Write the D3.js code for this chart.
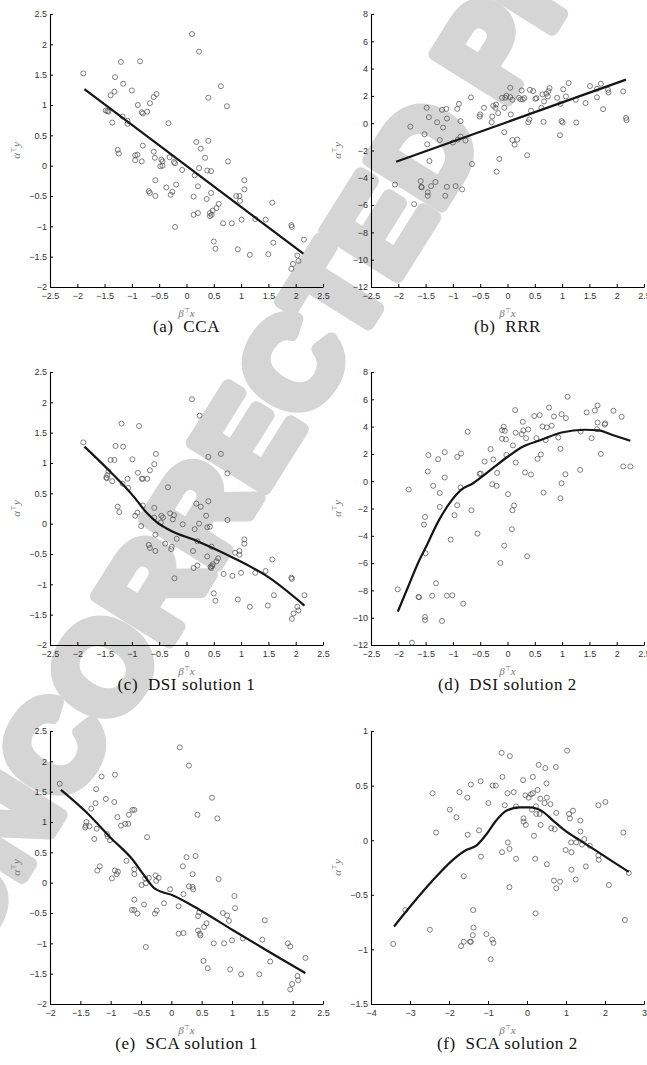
<!DOCTYPE html>
<html>
<head>
<meta charset="utf-8">
<script src="https://cdn.jsdelivr.net/npm/d3@7"></script>
<style>
  body { margin: 0; background: #fff; }
  svg { display: block; }
</style>
</head>
<body>
<div id="chart"></div>
<script>
// Data, [beta'x, alpha'y]
const ccaPoints = [[-1.89,1.52],[0.10,2.17],[0.23,1.88],[-1.20,1.71],[-0.85,1.72],[-1.31,1.46],[-1.16,1.35],[-1.32,1.22],[-1.39,1.16],[-1.00,1.24],[-0.55,1.18],[-0.60,1.13],[-0.67,1.03],[-0.89,1.00],[-0.82,0.88],[-0.80,0.86],[-0.72,0.89],[-1.48,0.91],[-1.43,0.89],[-1.45,0.90],[-1.17,0.81],[-1.08,0.74],[-1.08,0.69],[-1.36,0.71],[-0.33,0.70],[0.63,1.31],[0.40,1.12],[0.74,0.98],[0.18,0.39],[0.40,0.41],[0.26,0.28],[-0.80,0.33],[-1.26,0.26],[-1.24,0.20],[-0.94,0.17],[-0.90,0.18],[-0.94,0.09],[-0.82,0.07],[-0.60,0.23],[-0.58,0.13],[-0.46,0.10],[-0.44,0.07],[-0.48,-0.01],[-0.44,0.00],[-0.31,0.14],[-0.23,0.06],[-0.21,0.04],[-0.08,-0.07],[0.34,0.13],[0.76,0.07],[0.23,-0.04],[0.38,-0.08],[0.45,-0.09],[0.15,-0.16],[-0.57,-0.24],[-0.19,-0.31],[-0.37,-0.36],[-0.26,-0.43],[-0.29,-0.48],[-0.69,-0.42],[-0.67,-0.45],[-0.57,-0.50],[0.21,-0.34],[0.13,-0.51],[0.45,-0.45],[0.37,-0.55],[1.06,-0.24],[1.06,-0.39],[0.91,-0.50],[0.97,-0.50],[0.98,-0.58],[0.59,-0.63],[0.55,-0.70],[0.48,-0.74],[0.43,-0.78],[0.43,-0.83],[0.46,-0.81],[0.21,-0.78],[0.13,-0.81],[0.67,-0.95],[0.83,-0.95],[1.01,-0.89],[1.26,-0.88],[1.45,-0.89],[1.57,-0.61],[-0.21,-1.01],[1.92,-0.98],[1.93,-1.01],[2.15,-1.22],[1.59,-1.27],[0.50,-1.25],[0.53,-1.37],[0.94,-1.38],[1.16,-1.47],[1.50,-1.46],[2.03,-1.48],[2.05,-1.57],[1.95,-1.62],[1.92,-1.70]];
const ccaCurve = [[-1.87,1.26],[2.14,-1.45]];

const rrrPoints = [[-2.06,-4.49],[-1.78,-0.25],[-1.71,-5.93],[-1.59,-4.24],[-1.58,-4.66],[-1.57,-4.70],[-1.48,1.13],[-1.52,-0.81],[-1.47,-1.54],[-1.44,0.44],[-1.43,-2.77],[-1.46,-5.07],[-1.46,-5.32],[-1.40,-4.61],[-1.32,-4.31],[-1.29,0.07],[-1.24,-1.23],[-1.20,0.98],[-1.18,-0.32],[-1.12,1.05],[-1.11,0.34],[-1.14,-5.32],[-1.11,-4.66],[-1.00,-1.42],[-0.95,-4.61],[-0.92,1.05],[-0.89,1.42],[-0.91,-1.20],[-0.86,0.15],[-0.86,-0.98],[-0.83,-4.85],[-0.77,-1.27],[-0.67,1.89],[-0.65,-2.99],[-0.51,0.49],[-0.50,0.64],[-0.43,1.13],[-0.29,0.07],[-0.28,0.49],[-0.26,1.27],[-0.21,1.37],[-0.22,1.13],[-0.20,-3.55],[-0.17,0.74],[-0.15,-2.62],[-0.10,1.86],[-0.06,1.13],[-0.06,-0.66],[-0.04,1.86],[-0.02,2.01],[0.05,2.60],[0.05,1.91],[0.06,0.64],[0.09,1.72],[0.09,-1.23],[0.13,-1.57],[0.18,-1.20],[0.21,1.86],[0.24,1.74],[0.26,2.40],[0.28,1.74],[0.31,1.84],[0.36,-2.35],[0.38,0.07],[0.40,0.27],[0.41,2.45],[0.43,0.91],[0.47,2.35],[0.51,1.79],[0.53,1.84],[0.62,1.13],[0.66,0.10],[0.67,1.59],[0.64,2.11],[0.71,2.16],[0.75,2.35],[0.77,2.57],[0.74,1.96],[0.91,1.86],[0.96,-0.88],[0.97,1.42],[0.99,0.15],[1.01,0.05],[1.02,2.48],[1.07,1.96],[1.12,2.94],[1.25,1.72],[1.26,0.05],[1.43,1.47],[1.51,2.72],[1.64,2.52],[1.64,1.89],[1.71,2.89],[1.75,1.03],[1.84,2.45],[1.85,2.25],[2.12,2.33],[2.17,0.39],[2.18,0.22]];
const rrrCurve = [[-2.04,-2.82],[2.17,3.19]];

const dsi1Points = [[-1.89,1.34],[0.10,2.05],[0.24,1.78],[-1.19,1.65],[-0.87,1.61],[-1.30,1.28],[-1.16,1.27],[-0.56,1.15],[-1.39,1.05],[-1.32,1.05],[-0.99,1.06],[-0.59,0.98],[-0.67,0.88],[-0.89,0.84],[-1.43,0.86],[-1.45,0.80],[-1.47,0.76],[-1.46,0.75],[-1.36,0.70],[-1.08,0.74],[-1.17,0.66],[-1.07,0.59],[-0.82,0.74],[-0.80,0.74],[-0.72,0.74],[-0.34,0.60],[0.40,1.10],[0.63,1.15],[0.75,0.83],[0.18,0.33],[0.40,0.37],[0.26,0.28],[-0.80,0.30],[-1.26,0.28],[-1.23,0.19],[-0.94,0.13],[-0.90,0.18],[-0.83,-0.04],[-0.59,0.26],[-0.59,0.10],[-0.46,0.13],[-0.43,0.10],[-0.47,0.02],[-0.30,0.17],[-0.23,0.14],[-0.25,0.07],[-0.07,-0.01],[0.36,0.13],[0.75,0.06],[0.23,0.00],[0.38,-0.06],[0.43,-0.05],[0.15,-0.09],[-0.57,-0.18],[-0.18,-0.25],[-0.39,-0.33],[-0.28,-0.42],[-0.27,-0.38],[-0.69,-0.35],[-0.67,-0.40],[-0.57,-0.45],[0.20,-0.29],[0.12,-0.45],[0.46,-0.38],[0.38,-0.54],[1.06,-0.26],[1.06,-0.33],[0.89,-0.48],[0.97,-0.45],[0.97,-0.51],[0.58,-0.57],[0.55,-0.62],[0.48,-0.67],[0.44,-0.71],[0.45,-0.73],[0.47,-0.70],[0.20,-0.69],[0.13,-0.73],[0.68,-0.83],[0.84,-0.86],[1.00,-0.81],[1.26,-0.81],[1.45,-0.78],[1.57,-0.59],[-0.22,-0.90],[1.92,-0.89],[1.93,-0.91],[2.16,-1.18],[1.60,-1.18],[0.50,-1.15],[0.53,-1.27],[0.94,-1.25],[1.16,-1.37],[1.49,-1.35],[2.03,-1.37],[2.05,-1.43],[1.96,-1.48],[1.93,-1.57]];
const dsi1Curve = [[-1.87,1.27],[-1.40,0.86],[-0.97,0.45],[-0.72,0.17],[-0.54,0.02],[-0.32,-0.10],[0.20,-0.29],[0.87,-0.57],[1.48,-0.87],[2.16,-1.35]];

const dsi2Points = [[-2.01,-7.92],[-1.81,-0.61],[-1.75,-11.83],[-1.63,-8.48],[-1.62,-8.50],[-1.53,-3.18],[-1.51,-2.62],[-1.51,-9.95],[-1.51,-10.17],[-1.50,-5.28],[-1.46,0.71],[-1.45,1.91],[-1.36,-0.34],[-1.38,-8.39],[-1.31,-7.48],[-1.27,1.61],[-1.24,-0.86],[-1.24,-1.88],[-1.20,-10.24],[-1.15,2.13],[-1.15,0.27],[-1.11,-8.39],[-1.01,-8.36],[-1.04,-4.28],[-0.97,-2.49],[-0.92,1.78],[-0.92,-1.76],[-0.85,2.03],[-0.86,-0.46],[-0.81,-8.97],[-0.73,3.62],[-0.66,-2.13],[-0.55,-3.84],[-0.51,0.54],[-0.49,0.56],[-0.42,1.44],[-0.31,2.35],[-0.28,-0.22],[-0.26,1.59],[-0.20,-0.34],[-0.19,0.61],[-0.13,-5.99],[-0.10,3.11],[-0.10,3.74],[-0.07,3.99],[-0.05,3.69],[-0.03,3.06],[-0.06,-4.72],[-0.02,1.93],[0.01,-0.95],[0.10,2.62],[0.09,-2.13],[0.12,-1.78],[0.08,-3.52],[0.14,5.21],[0.15,3.55],[0.15,1.37],[0.26,3.45],[0.28,4.35],[0.29,3.72],[0.32,0.64],[0.34,3.15],[0.36,-5.50],[0.38,3.79],[0.43,0.49],[0.49,4.77],[0.53,3.15],[0.55,1.64],[0.59,4.84],[0.61,1.96],[0.64,4.01],[0.66,-0.83],[0.72,3.94],[0.76,5.40],[0.70,3.01],[0.81,4.06],[0.85,4.74],[0.93,3.20],[0.97,2.37],[0.97,-1.25],[0.99,-0.15],[0.99,4.91],[1.07,4.62],[1.06,0.51],[1.10,6.19],[1.33,0.83],[1.34,3.64],[1.45,5.04],[1.54,3.15],[1.60,5.18],[1.65,5.55],[1.65,4.30],[1.64,3.81],[1.71,2.00],[1.79,4.23],[1.78,4.15],[1.94,5.16],[2.09,4.72],[2.12,1.08],[2.25,1.08]];
const dsi2Curve = [[-2.01,-9.56],[-1.82,-7.73],[-1.64,-6.01],[-1.49,-4.79],[-1.27,-2.96],[-1.06,-1.61],[-0.85,-0.64],[-0.63,-0.15],[-0.48,0.29],[-0.23,1.08],[0.01,1.81],[0.26,2.49],[0.62,3.03],[0.99,3.57],[1.42,3.77],[1.67,3.72],[1.91,3.40],[2.25,2.96]];

const sca1Points = [[-1.84,1.63],[0.14,2.23],[0.29,1.93],[-1.15,1.75],[-0.93,1.78],[-1.24,1.54],[-1.25,1.31],[-1.08,1.38],[-0.94,1.33],[-1.32,1.22],[-0.64,1.20],[-0.61,1.20],[-0.70,1.12],[-0.89,1.08],[-0.76,0.97],[-0.71,0.97],[-0.83,0.94],[-1.40,1.00],[-1.41,0.94],[-1.35,0.93],[-1.42,0.91],[-1.23,0.89],[-1.06,0.80],[-1.05,0.76],[-1.01,0.70],[-1.27,0.72],[-0.40,0.75],[0.67,1.40],[0.43,1.12],[0.76,1.06],[0.25,0.42],[0.40,0.44],[0.19,0.27],[-0.74,0.36],[-1.18,0.27],[-1.22,0.20],[-0.93,0.20],[-0.88,0.18],[-0.90,0.14],[-0.98,0.07],[-0.61,0.22],[-0.61,0.14],[-0.43,0.07],[-0.37,0.08],[-0.42,-0.01],[-0.49,-0.04],[-0.26,0.12],[-0.21,0.08],[-0.25,0.03],[-0.02,-0.11],[0.35,0.14],[0.78,0.06],[0.29,-0.06],[0.35,-0.07],[0.36,-0.11],[0.20,-0.19],[-0.61,-0.28],[-0.12,-0.34],[-0.45,-0.36],[-0.65,-0.45],[-0.61,-0.45],[-0.56,-0.51],[-0.24,-0.46],[-0.27,-0.51],[0.12,-0.39],[0.46,-0.49],[0.44,-0.55],[1.04,-0.22],[1.05,-0.42],[0.85,-0.50],[0.92,-0.54],[0.95,-0.63],[0.58,-0.67],[0.54,-0.73],[0.44,-0.79],[0.47,-0.84],[0.48,-0.87],[0.20,-0.83],[0.12,-0.84],[0.70,-1.00],[0.87,-1.00],[1.00,-0.95],[1.18,-0.92],[1.50,-0.94],[1.54,-0.62],[-0.42,-1.06],[1.92,-1.00],[1.96,-1.05],[2.21,-1.24],[1.63,-1.30],[0.53,-1.29],[0.60,-1.41],[0.97,-1.43],[1.15,-1.51],[1.45,-1.51],[2.08,-1.54],[2.09,-1.61],[1.99,-1.67],[1.96,-1.76]];
const sca1Curve = [[-1.82,1.53],[-1.40,1.16],[-1.01,0.75],[-0.63,0.37],[-0.47,0.15],[-0.27,-0.10],[0.03,-0.21],[0.47,-0.45],[1.01,-0.78],[1.56,-1.11],[2.21,-1.49]];

const sca2Points = [[-3.43,-0.95],[-3.12,-0.64],[-2.49,-0.82],[-2.42,0.43],[-2.33,0.07],[-1.98,0.28],[-1.81,0.21],[-1.73,0.44],[-1.69,-0.97],[-1.62,-0.93],[-1.62,-0.33],[-1.53,0.39],[-1.52,0.05],[-1.46,-0.93],[-1.44,-0.93],[-1.44,0.51],[-1.38,-0.64],[-1.37,-0.80],[-1.39,-0.87],[-1.23,0.09],[-1.19,0.54],[-1.18,-0.15],[-1.04,-0.86],[-0.99,0.34],[-0.93,-1.09],[-0.89,-0.91],[-0.86,-0.94],[-0.88,0.50],[-0.80,0.50],[-0.65,0.80],[-0.63,0.58],[-0.64,-0.11],[-0.57,0.32],[-0.50,0.43],[-0.49,-0.02],[-0.45,-0.08],[-0.44,0.77],[-0.45,-0.43],[-0.34,0.44],[-0.28,-0.17],[-0.28,0.31],[-0.10,0.55],[-0.09,0.20],[-0.09,0.17],[-0.04,0.41],[-0.03,0.14],[0.04,0.39],[0.10,0.42],[0.15,0.58],[0.15,0.43],[0.13,0.28],[0.18,0.04],[0.21,-0.17],[0.22,-0.67],[0.23,0.31],[0.24,0.24],[0.27,0.46],[0.30,0.69],[0.32,0.24],[0.34,0.38],[0.35,0.14],[0.45,0.34],[0.47,0.66],[0.50,0.52],[0.51,0.39],[0.51,-0.22],[0.60,0.33],[0.62,0.11],[0.69,-0.37],[0.71,0.10],[0.74,0.67],[0.75,0.25],[0.75,-0.44],[0.85,-0.38],[0.99,-0.09],[1.03,0.82],[1.08,0.24],[1.10,0.20],[1.13,-0.02],[1.14,-0.11],[1.14,-0.27],[1.18,0.27],[1.26,-0.02],[1.25,-0.36],[1.37,0.18],[1.37,0.08],[1.41,-0.04],[1.47,0.01],[1.51,-0.24],[1.61,-0.05],[1.83,0.32],[1.83,-0.14],[1.84,-0.18],[2.01,0.35],[2.10,-0.41],[2.47,0.07],[2.51,-0.73],[2.61,-0.30]];
const sca2Curve = [[-3.41,-0.79],[-2.93,-0.58],[-2.42,-0.37],[-1.90,-0.18],[-1.56,-0.09],[-1.30,-0.05],[-1.05,0.05],[-0.79,0.18],[-0.53,0.27],[-0.19,0.30],[0.07,0.30],[0.41,0.26],[0.67,0.18],[0.97,0.09],[1.35,0.00],[1.70,-0.08],[2.13,-0.18],[2.61,-0.29]];

// Axis ranges and tick labels
const xTicksA = [-2.5, -2, -1.5, -1, -0.5, 0, 0.5, 1, 1.5, 2, 2.5],
  xTicksE = [-2, -1.5, -1, -0.5, 0, 0.5, 1, 1.5, 2, 2.5],
  xTicksF = [-4, -3, -2, -1, 0, 1, 2, 3],
  yTicksA = [-2, -1.5, -1, -0.5, 0, 0.5, 1, 1.5, 2, 2.5],
  yTicksB = [-12, -10, -8, -6, -4, -2, 0, 2, 4, 6, 8],
  yTicksF = [-1.5, -1, -0.5, 0, 0.5, 1];

const captions = ["(a)  CCA", "(b)  RRR", "(c)  DSI solution 1", "(d)  DSI solution 2", "(e)  SCA solution 1", "(f)  SCA solution 2"];

// Layout
const width = 647,
  height = 1065,
  plotW = 273,
  plotH = 273,
  colX = [50, 371],
  rowY = [14, 372, 731];

var svg = d3.select("#chart").append("svg")
  .attr("width", width)
  .attr("height", height);

// Watermark sits behind everything
svg.append("text")
  .attr("transform", "translate(-30,961) rotate(-58)")
  .attr("font-family", "Liberation Sans, Arial, sans-serif")
  .attr("font-weight", "bold")
  .attr("font-size", 125)
  .attr("fill", "#d5d5d5")
  .attr("stroke", "#d5d5d5")
  .attr("stroke-width", 13)
  .attr("stroke-linejoin", "round")
  .text("UNCORRECTED PROOF");

const panels = [
  { pts: ccaPoints, curve: ccaCurve, xd: [-2.5, 2.5], yd: [-2, 2.5], xt: xTicksA, yt: yTicksA },
  { pts: rrrPoints, curve: rrrCurve, xd: [-2.5, 2.5], yd: [-12, 8], xt: xTicksA, yt: yTicksB },
  { pts: dsi1Points, curve: dsi1Curve, xd: [-2.5, 2.5], yd: [-2, 2.5], xt: xTicksA, yt: yTicksA },
  { pts: dsi2Points, curve: dsi2Curve, xd: [-2.5, 2.5], yd: [-12, 8], xt: xTicksA, yt: yTicksB },
  { pts: sca1Points, curve: sca1Curve, xd: [-2, 2.5], yd: [-2, 2.5], xt: xTicksE, yt: yTicksA },
  { pts: sca2Points, curve: sca2Curve, xd: [-4, 3], yd: [-1.5, 1], xt: xTicksF, yt: yTicksF }
];

const fmt = d => String(d).replace("-", "\u2212");

panels.forEach((p, i) => {
  var left = colX[i % 2],
    top = rowY[Math.floor(i / 2)];

  var x = d3.scaleLinear().domain(p.xd).range([0, plotW]),
    y = d3.scaleLinear().domain(p.yd).range([plotH, 0]);

  var g = svg.append("g")
    .attr("id", "panel-" + (i + 1))
    .attr("transform", "translate(" + left + "," + top + ")");

  // axes: left + bottom only, small inward ticks
  var xAxis = g.append("g")
    .attr("transform", "translate(0," + plotH + ")")
    .call(d3.axisBottom(x).tickValues(p.xt).tickFormat(fmt).tickSizeInner(-3).tickSizeOuter(0).tickPadding(6));
  var yAxis = g.append("g")
    .call(d3.axisLeft(y).tickValues(p.yt).tickFormat(fmt).tickSizeInner(-3).tickSizeOuter(0).tickPadding(3));

  [xAxis, yAxis].forEach(a => {
    a.select(".domain").attr("stroke", "#000").attr("stroke-width", 1.1);
    a.selectAll(".tick line").attr("stroke", "#000");
    a.selectAll("text")
      .attr("font-family", "Liberation Sans, Arial, sans-serif")
      .attr("font-size", 9)
      .attr("fill", "#333");
  });

  // scatter
  g.append("g").selectAll("circle")
    .data(p.pts)
    .enter()
    .append("circle")
      .attr("cx", d => x(d[0]))
      .attr("cy", d => y(d[1]))
      .attr("r", 2.5)
      .attr("fill", "none")
      .attr("stroke", "#4a4a4a")
      .attr("stroke-width", 0.7);

  // fitted curve
  var line = d3.line()
    .x(d => x(d[0]))
    .y(d => y(d[1]))
    .curve(d3.curveMonotoneX);

  g.append("path")
    .datum(p.curve)
    .attr("d", line)
    .attr("fill", "none")
    .attr("stroke", "#151515")
    .attr("stroke-width", 2.2)
    .attr("stroke-linejoin", "round");

  // axis labels
  var xl = g.append("text")
    .attr("x", plotW / 2)
    .attr("y", plotH + 30)
    .attr("text-anchor", "middle")
    .attr("font-family", "Liberation Serif, serif")
    .attr("font-size", 11)
    .attr("fill", "#777");
  xl.append("tspan").attr("font-style", "italic").text("\u03B2");
  xl.append("tspan").attr("font-size", 7).attr("dy", -4).text("\u22A4");
  xl.append("tspan").attr("font-style", "italic").attr("dy", 4).text("x");

  var yl = g.append("text")
    .attr("transform", "translate(" + (-30) + "," + (plotH / 2) + ") rotate(-90)")
    .attr("text-anchor", "middle")
    .attr("font-family", "Liberation Serif, serif")
    .attr("font-size", 11)
    .attr("fill", "#777");
  yl.append("tspan").attr("font-style", "italic").text("\u03B1");
  yl.append("tspan").attr("font-size", 7).attr("dy", -4).text("\u22A4");
  yl.append("tspan").attr("font-style", "italic").attr("dy", 4).text("y");

  // caption
  g.append("text")
    .attr("x", plotW / 2)
    .attr("y", plotH + 45)
    .attr("text-anchor", "middle")
    .attr("font-family", "Liberation Serif, serif")
    .attr("font-size", 17)
    .attr("letter-spacing", 0.6)
    .attr("fill", "#111")
    .attr("xml:space", "preserve")
    .style("white-space", "pre")
    .text(captions[i]);
});
</script>
</body>
</html>
